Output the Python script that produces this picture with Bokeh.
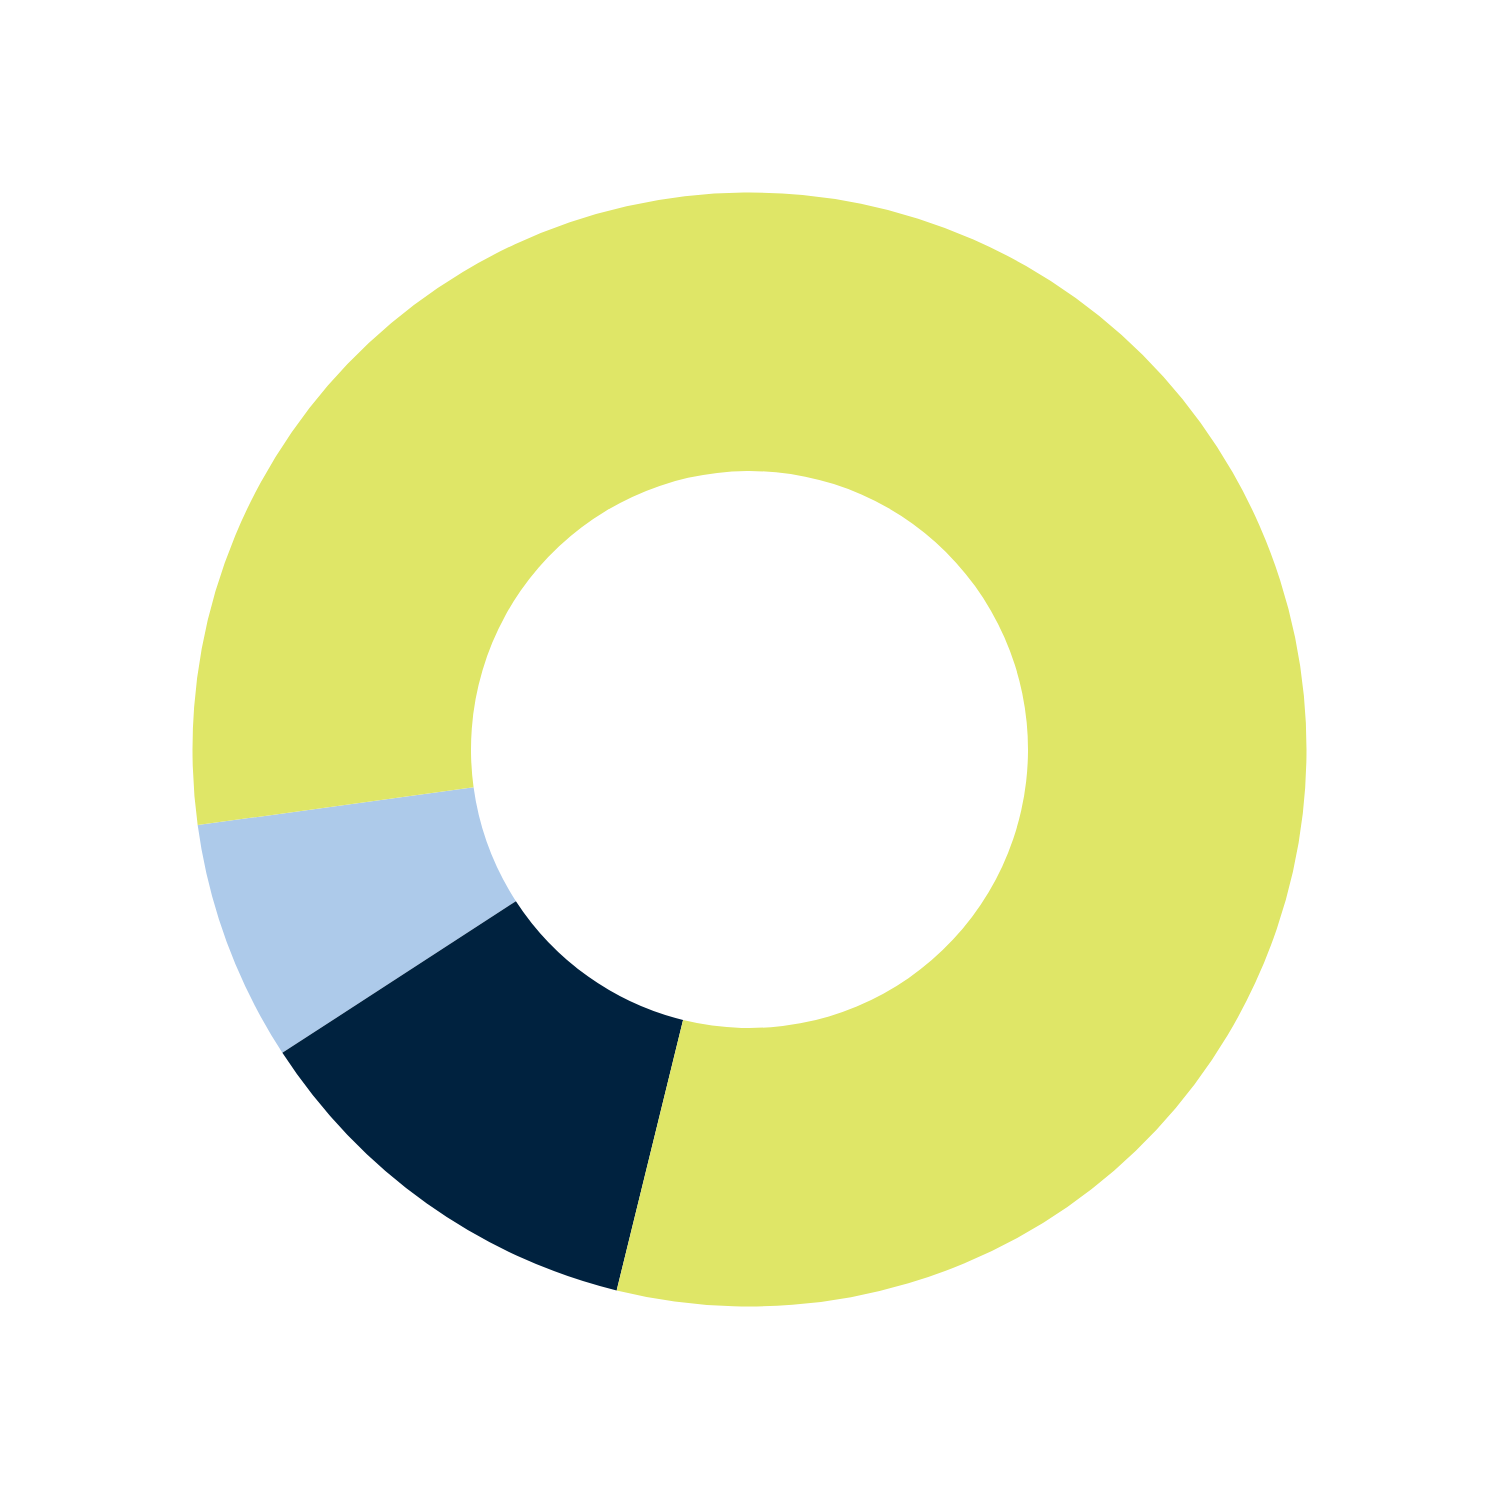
import math
from bokeh.plotting import figure
from bokeh.models import ColumnDataSource
from bokeh.embed import file_html
from bokeh.resources import INLINE

categories = ["A", "B", "C"]
values = [7, 12, 81]
colors = ["#ADCAEA", "#00223F", "#DFE667"]

start_deg = 187.8  # counterclockwise from +x
total = sum(values)
starts, ends = [], []
acc = math.radians(start_deg)
for v in values:
    starts.append(acc)
    acc += 2 * math.pi * v / total
    ends.append(acc)

src = ColumnDataSource(dict(cat=categories, val=values, color=colors, start=starts, end=ends))

W = 1484
PPU = 557.0
R = W / (2 * PPU)
d = 7 / PPU
p = figure(width=W, height=W, x_range=(-R - d, R - d), y_range=(-R + d, R + d),
           output_backend="svg", toolbar_location=None, min_border=0)
p.annular_wedge(x=0, y=0, inner_radius=0.5, outer_radius=1.0,
                start_angle="start", end_angle="end", direction="anticlock",
                fill_color="color", line_color=None, source=src)
p.axis.visible = False
p.grid.visible = False
p.outline_line_color = None
p.background_fill_color = "white"
p.border_fill_color = "white"

open("out.html", "w").write(file_html(p, INLINE))
